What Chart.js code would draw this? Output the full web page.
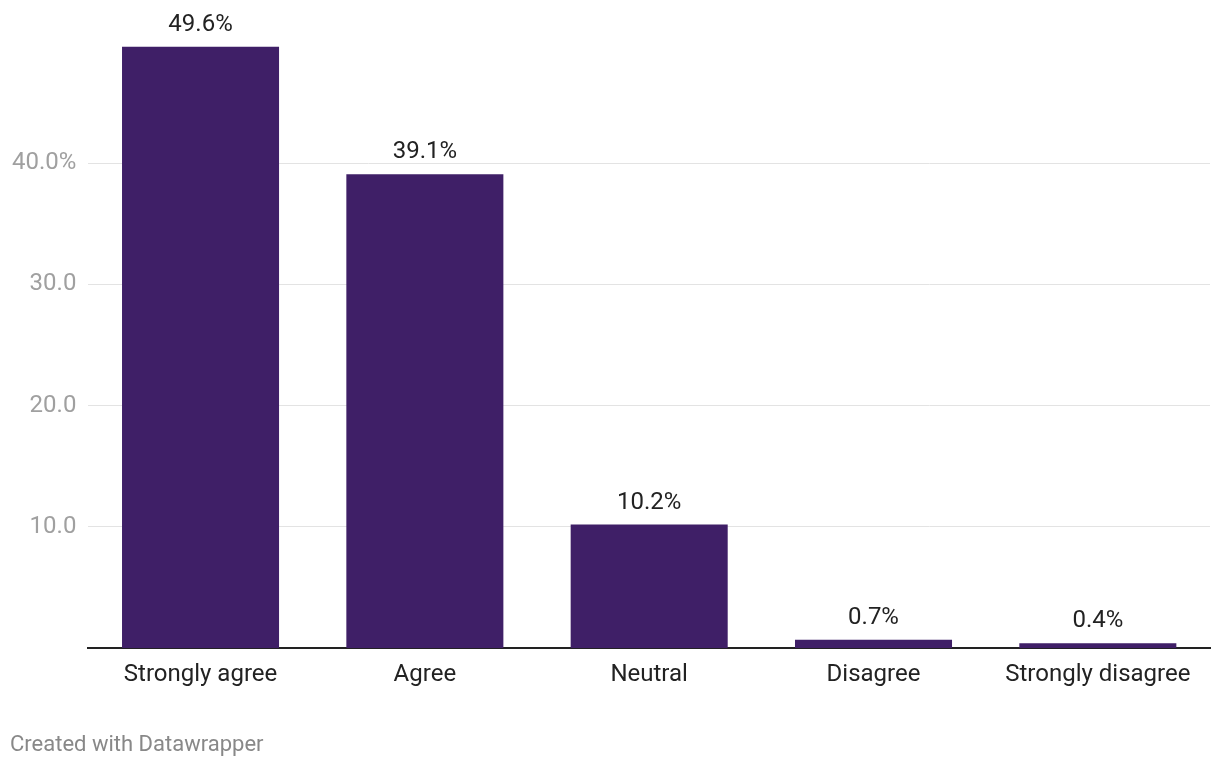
<!DOCTYPE html>
<html>
<head>
<meta charset="utf-8">
<script src="https://cdn.jsdelivr.net/npm/chart.js@4"></script>
<style>
  body { margin: 0; background: #fff; font-family: Roboto, sans-serif; }
  #wrap { position: relative; width: 1220px; height: 768px; }
  #footer { position: absolute; left: 10px; top: 731px; font-size: 22px; color: #888; font-family: Roboto, sans-serif; }
</style>
</head>
<body>
<div id="wrap">
  <canvas id="chart" width="1220" height="768"></canvas>
  <div id="footer">Created with Datawrapper</div>
</div>
<script>
const categories = ['Strongly agree', 'Agree', 'Neutral', 'Disagree', 'Strongly disagree'];
const shares = [49.6, 39.1, 10.2, 0.7, 0.4];
const tickValues = [10, 20, 30, 40];

// value labels above each bar
const barLabels = {
    id: 'barLabels',
    afterDatasetsDraw(chart) {
        const ctx = chart.ctx;
        const meta = chart.getDatasetMeta(0);
        ctx.save();
        ctx.font = '24px Roboto, sans-serif';
        ctx.fillStyle = '#222';
        ctx.textAlign = 'center';
        ctx.textBaseline = 'middle';
        meta.data.forEach((bar, i) => {
            ctx.fillText(shares[i].toFixed(1) + '%', bar.x, bar.y - 22);
        });
        ctx.restore();
    }
};

new Chart(document.getElementById('chart'), {
    type: 'bar',
    data: {
        labels: categories,
        datasets: [{
            data: shares,
            backgroundColor: '#3f1f67',
            barPercentage: 0.7,
            categoryPercentage: 1
        }]
    },
    options: {
        responsive: false,
        animation: false,
        layout: { padding: { left: 0, right: 10, top: 42, bottom: 75 } },
        plugins: {
            legend: { display: false },
            tooltip: { enabled: false }
        },
        scales: {
            x: {
                grid: { display: false },
                border: { display: true, color: '#222', width: 2 },
                ticks: {
                    color: '#222',
                    font: { family: 'Roboto', size: 24 },
                    padding: 4
                }
            },
            y: {
                min: 0,
                max: 50,
                afterBuildTicks: scale => {
                    scale.ticks = tickValues.map(v => ({ value: v }));
                },
                grid: { color: '#e3e3e3', lineWidth: 1, drawTicks: false },
                border: { display: false },
                ticks: {
                    color: '#a0a0a0',
                    font: { family: 'Roboto', size: 24 },
                    padding: 12,
                    callback: v => v === 40 ? '40.0%' : v.toFixed(1)
                }
            }
        }
    },
    plugins: [barLabels]
});
</script>
</body>
</html>
